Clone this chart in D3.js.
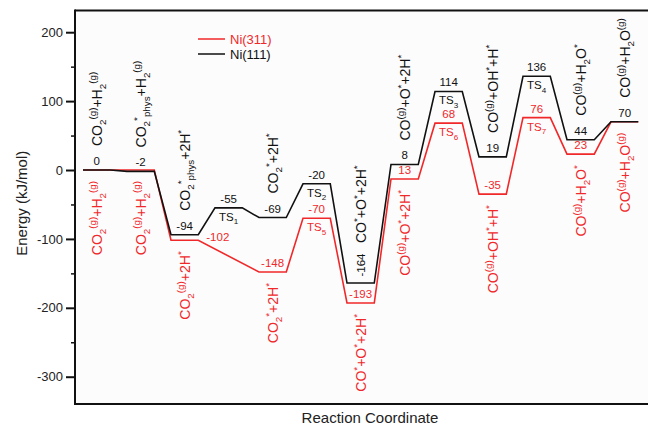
<!DOCTYPE html>
<html>
<head>
<meta charset="utf-8">
<script src="https://cdn.jsdelivr.net/npm/d3@7"></script>
<style>
  body { margin: 0; background: #fff; }
  svg { display: block; font-family: "Liberation Sans", Arial, sans-serif; }
</style>
</head>
<body>
<div id="chart"></div>
<script>
// reaction steps along the coordinate
const steps = [0, 1, 2, 3, 4, 5, 6, 7, 8, 9, 10, 11, 12]

// energies (kJ/mol)
const ni111 = [0, -2, -94, -55, -69, -20, -164, 8, 114, 19, 136, 44, 70]
const ni311 = [0, 0, -102, null, -148, -70, -193, -13, 68, -35, 76, 23, 70]

// printed numbers
const ni111Text = ['0', '-2', '-94', '-55', '-69', '-20', '-164', '8', '114', '19', '136', '44', '70']
const ni311Text = ['', '', '-102', '', '-148', '-70', '-193', '13', '68', '-35', '76', '23', '']

// transition states
const ni111TS = ['', '', '', 'TS_{1}', '', 'TS_{2}', '', '', 'TS_{3}', '', 'TS_{4}', '', '']
const ni311TS = ['', '', '', '', '', 'TS_{5}', '', '', 'TS_{6}', '', 'TS_{7}', '', '']

// species (_{} subscript, ^{} superscript)
const ni111Species = [
  'CO_{2}^{(g)}+H_{2}^{(g)}', 'CO_{2}^{*}_{phys}+H_{2}^{(g)}', 'CO_{2}^{*}_{phys}+2H^{*}', '',
  'CO_{2}^{*}+2H^{*}', '', 'CO^{*}+O^{*}+2H^{*}', 'CO^{(g)}+O^{*}+2H^{*}', '',
  'CO^{(g)}+OH^{*}+H^{*}', '', 'CO^{(g)}+H_{2}O^{*}', 'CO^{(g)}+H_{2}O^{(g)}'
]
const ni311Species = [
  'CO_{2}^{(g)}+H_{2}^{(g)}', 'CO_{2}^{(g)}+H_{2}^{(g)}', 'CO_{2}^{(g)}+2H^{*}', '',
  'CO_{2}^{*}+2H^{*}', '', 'CO^{*}+O^{*}+2H^{*}', 'CO^{(g)}+O^{*}+2H^{*}', '',
  'CO^{(g)}+OH^{*}+H^{*}', '', 'CO^{(g)}+H_{2}O^{*}', 'CO^{(g)}+H_{2}O^{(g)}'
]

const yTicks = [-300, -200, -100, 0, 100, 200]
const yMinor = [-250, -150, -50, 50, 150]

const RED = '#f0282a'
const BLACK = '#111'

const W = 648, H = 426
const mLeft = 75, mTop = 10.5, mBottom = 404
const plateau = 0.62

const svg = d3.select('#chart').append('svg')
  .attr('width', W).attr('height', H)

const x = d3.scaleLinear().domain([0, 12]).range([83, 611])
const y = d3.scaleLinear().domain([-339.6, 231.5]).range([mBottom, mTop])

// plot background
svg.append('rect')
  .attr('x', mLeft).attr('y', mTop).attr('width', W - mLeft).attr('height', mBottom - mTop)
  .attr('fill', '#fcfcfc')

// rich text with sub/superscripts
function rich(sel, str, size) {
  let shift = 0
  for (const m of str.matchAll(/([_^])\{([^}]*)\}|([^_^]+)/g)) {
    const kind = m[1] || ''
    const txt = kind ? m[2] : m[3]
    const target = kind === '_' ? size * 0.3 : kind === '^' ? -size * 0.4 : 0
    sel.append('tspan')
      .attr('dy', target - shift)
      .attr('font-size', kind ? size * 0.7 : size)
      .text(txt)
    shift = target
  }
  return sel
}

// level lines
function levelPoints(vals) {
  const pts = []
  steps.forEach(i => {
    if (vals[i] == null) return
    pts.push([i, vals[i]], [i + plateau, vals[i]])
  })
  return pts
}
const line = d3.line().x(d => x(d[0])).y(d => y(d[1]))

svg.append('path')
  .datum(levelPoints(ni311))
  .attr('fill', 'none').attr('stroke', RED).attr('stroke-width', 1.6)
  .attr('d', line)

svg.append('path')
  .datum(levelPoints(ni111))
  .attr('fill', 'none').attr('stroke', BLACK).attr('stroke-width', 1.6)
  .attr('d', line)

const cx = i => x(i + plateau / 2)

// numeric labels + TS labels
function numberLabels(vals, texts, ts, color) {
  steps.forEach(i => {
    if (vals[i] == null) return
    const ly = y(vals[i])
    if (texts[i]) {
      const t = svg.append('text').attr('fill', color).attr('font-size', 11.5)
      if (color === BLACK && i === 6) {
        // rotated number in the deep well
        t.attr('text-anchor', 'middle')
          .attr('transform', `translate(${cx(i) + 4},${ly - 18}) rotate(-90)`)
          .text(texts[i])
      } else if (color === RED && i === 2) {
        t.attr('text-anchor', 'start')
          .attr('x', x(i + plateau) + 8).attr('y', ly + 1)
          .text(texts[i])
      } else {
        t.attr('text-anchor', 'middle')
          .attr('x', cx(i)).attr('y', ly - 5)
          .text(texts[i])
      }
    }
    if (ts[i]) {
      rich(svg.append('text')
        .attr('fill', color).attr('text-anchor', 'middle')
        .attr('x', cx(i)).attr('y', ly + 13), ts[i], 11.5)
    }
  })
}
numberLabels(ni311, ni311Text, ni311TS, RED)
numberLabels(ni111, ni111Text, ni111TS, BLACK)

// species labels (rotated)
steps.forEach(i => {
  if (ni111Species[i]) {
    const gap = i === 6 ? 40 : 24
    rich(svg.append('text')
      .attr('fill', BLACK).attr('text-anchor', 'start')
      .attr('transform', `translate(${cx(i) + 5},${y(ni111[i]) - gap}) rotate(-90)`),
      ni111Species[i], 14)
  }
  if (ni311Species[i]) {
    rich(svg.append('text')
      .attr('fill', RED).attr('text-anchor', 'end')
      .attr('transform', `translate(${cx(i) + 5},${y(ni311[i]) + 11}) rotate(-90)`),
      ni311Species[i], 14)
  }
})

// y axis
svg.append('g')
  .attr('transform', `translate(${mLeft},0)`)
  .call(d3.axisLeft(y).tickValues(yMinor).tickSize(4).tickSizeOuter(0).tickFormat(''))
  .call(ax => ax.select('.domain').remove())
  .call(ax => ax.selectAll('line').attr('stroke', BLACK).attr('stroke-width', 1.5))

svg.append('g')
  .attr('transform', `translate(${mLeft},0)`)
  .call(d3.axisLeft(y).tickValues(yTicks).tickSize(9).tickSizeOuter(0).tickPadding(3)
    .tickFormat(d => String(d)))
  .call(ax => ax.select('.domain').remove())
  .call(ax => ax.selectAll('line').attr('stroke', BLACK).attr('stroke-width', 2))
  .call(ax => ax.selectAll('text').attr('fill', '#222').attr('font-size', 13)
    .attr('font-family', '"Liberation Sans", Arial, sans-serif'))

// frame
svg.append('line').attr('x1', mLeft).attr('x2', mLeft).attr('y1', mTop - 1).attr('y2', mBottom + 1)
  .attr('stroke', BLACK).attr('stroke-width', 2)
svg.append('line').attr('x1', mLeft).attr('x2', W).attr('y1', mTop).attr('y2', mTop)
  .attr('stroke', BLACK).attr('stroke-width', 2)
svg.append('line').attr('x1', mLeft).attr('x2', W).attr('y1', mBottom).attr('y2', mBottom)
  .attr('stroke', BLACK).attr('stroke-width', 2)

// axis titles
svg.append('text')
  .attr('transform', `translate(27,${(mTop + mBottom) / 2 - 4}) rotate(-90)`)
  .attr('text-anchor', 'middle').attr('font-size', 15).attr('fill', '#222')
  .text('Energy (kJ/mol)')

svg.append('text')
  .attr('x', 370).attr('y', 423)
  .attr('text-anchor', 'middle').attr('font-size', 15).attr('fill', '#222')
  .text('Reaction Coordinate')

// legend
const legend = svg.append('g').attr('transform', 'translate(198,39)')
;[
  { color: RED, label: 'Ni(311)' },
  { color: BLACK, label: 'Ni(111)' }
].forEach((item, i) => {
  const row = legend.append('g').attr('transform', `translate(0,${i * 15})`)
  row.append('line')
    .attr('x1', 0).attr('x2', 27).attr('y1', 0).attr('y2', 0)
    .attr('stroke', item.color).attr('stroke-width', 1.5)
  row.append('text')
    .attr('x', 32).attr('y', 4.5)
    .attr('fill', item.color).attr('font-size', 13)
    .text(item.label)
})
</script>
</body>
</html>
